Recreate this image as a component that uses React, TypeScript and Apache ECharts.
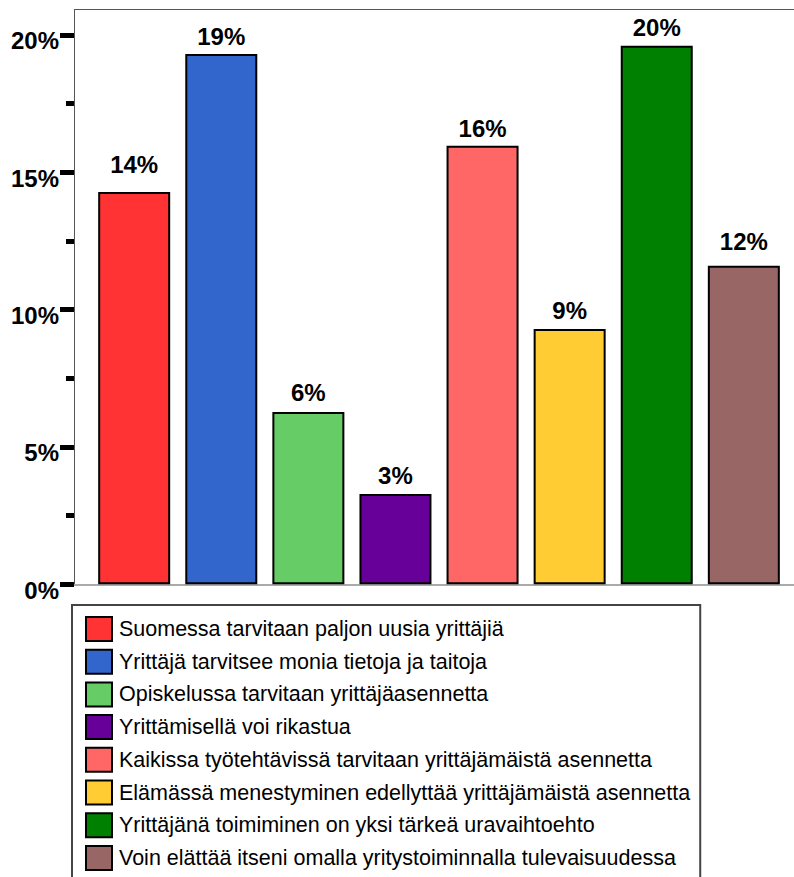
import React, { useEffect, useRef } from "react";
import * as echarts from "echarts";

const categories = [
  "Suomessa tarvitaan paljon uusia yrittäjiä",
  "Yrittäjä tarvitsee monia tietoja ja taitoja",
  "Opiskelussa tarvitaan yrittäjäasennetta",
  "Yrittämisellä voi rikastua",
  "Kaikissa työtehtävissä tarvitaan yrittäjämäistä asennetta",
  "Elämässä menestyminen edellyttää yrittäjämäistä asennetta",
  "Yrittäjänä toimiminen on yksi tärkeä uravaihtoehto",
  "Voin elättää itseni omalla yritystoiminnalla tulevaisuudessa",
];
const values = [14.28, 19.3, 6.27, 3.29, 15.96, 9.29, 19.6, 11.59];
const colors = ["#FF3333", "#3366CC", "#66CC66", "#660099", "#FF6666", "#FFCC33", "#008000", "#996666"];
const yTicks = [0, 5, 10, 15, 20];
// label distance above each bar (style only)
const labelDistances = [15, 6, 8, 6, 5, 7, 6, 12];

const FONT = "'Liberation Sans', Arial, Helvetica, sans-serif";

export default function App() {
  const ref = useRef<HTMLDivElement>(null);
  useEffect(() => {
    if (!ref.current) return;
    const chart = echarts.init(ref.current, null, { renderer: "svg" });
    const gridLeft = 74;
    const gridTop = 34.8;
    const gridBottomY = 584.3;
    const totalH = 960;
    const series = categories.map((name, i) => ({
      name,
      type: "bar",
      barWidth: 72,
      barGap: "-100%",
      data: [[i, values[i]]],
      itemStyle: { color: colors[i], borderColor: "#000", borderWidth: 2 },
      label: {
        show: true,
        position: "top",
        distance: labelDistances[i],
        formatter: (p: any) => Math.round(p.value[1]) + "%",
        fontFamily: FONT,
        fontWeight: "bold",
        fontSize: 24,
        color: "#000",
      },
    }));
    chart.setOption({
      animation: false,
      textStyle: { fontFamily: FONT },
      grid: { left: gridLeft, right: 0, top: gridTop, bottom: totalH - gridBottomY, containLabel: false },
      xAxis: {
        type: "value",
        min: -0.691,
        max: 7.576,
        axisLine: { show: true, onZero: false, lineStyle: { color: "#aaaaaa", width: 2 } },
        axisTick: { show: false },
        axisLabel: { show: false },
        splitLine: { show: false },
      },
      yAxis: {
        type: "value",
        min: yTicks[0],
        max: yTicks[yTicks.length - 1],
        interval: 5,
        axisLine: { show: true, onZero: false, lineStyle: { color: "#555555", width: 1 } },
        axisTick: { show: true, inside: false, length: 14, lineStyle: { color: "#000", width: 5 } },
        minorTick: { show: true, splitNumber: 2, length: 8, lineStyle: { color: "#000", width: 5 } },
        axisLabel: {
          formatter: (v: number) => v + "%",
          fontFamily: FONT,
          fontWeight: "bold",
          fontSize: 24,
          color: "#000",
          margin: 15,
          verticalAlign: "top",
          lineHeight: 12,
        },
        splitLine: { show: false },
      },
      legend: {
        orient: "vertical",
        left: 72,
        top: 605,
        padding: [11, 10, 40, 13],
        itemWidth: 26,
        itemHeight: 24,
        itemGap: 6.7,
        icon: "rect",
        borderColor: "#444444",
        borderWidth: 2,
        borderRadius: 0,
        backgroundColor: "#fff",
        textStyle: { fontFamily: FONT, fontSize: 21.5, lineHeight: 24, color: "#000", padding: [0, 0, 0, 2] },
        data: categories,
      },
      graphic: [
        {
          type: "line",
          shape: { x1: gridLeft + 0.5, y1: 9.5, x2: gridLeft + 0.5, y2: gridTop },
          style: { stroke: "#555555", lineWidth: 1 },
        },
        {
          type: "line",
          shape: { x1: gridLeft, y1: 9.5, x2: 794, y2: 9.5 },
          style: { stroke: "#555555", lineWidth: 1 },
        },
      ],
      series,
    });
    return () => chart.dispose();
  }, []);
  return (
    <div style={{ position: "absolute", left: 0, top: 0, width: 794, height: 877, overflow: "hidden", background: "#fff" }}>
      <div ref={ref} style={{ width: 794, height: 960 }} />
    </div>
  );
}
